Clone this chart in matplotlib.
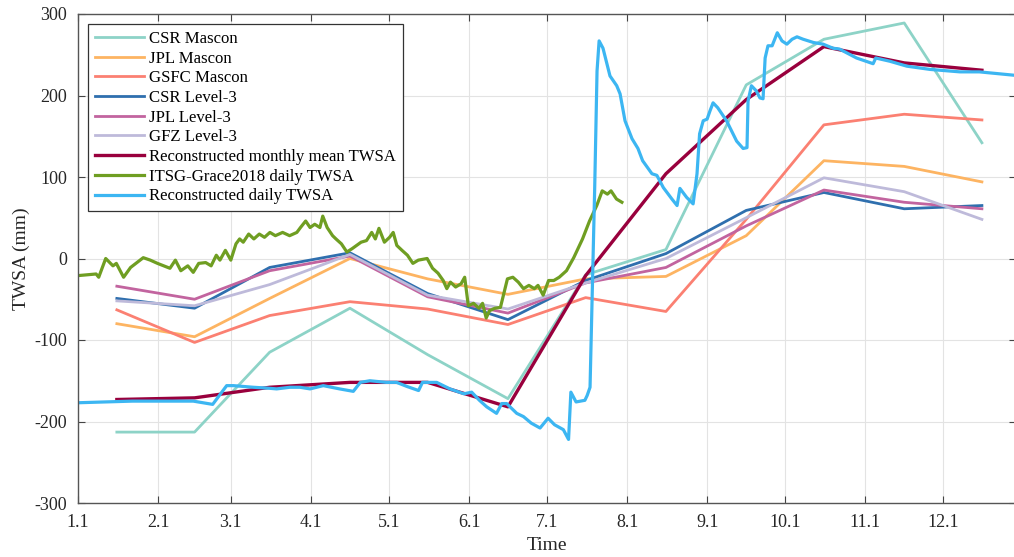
import matplotlib.pyplot as plt

# x axis is day of year (0 = Jan 1), labels at month starts
month_start = [0, 31, 59, 90, 120, 151, 181, 212, 243, 273, 304, 334]
month_labels = ["1.1", "2.1", "3.1", "4.1", "5.1", "6.1",
                "7.1", "8.1", "9.1", "10.1", "11.1", "12.1"]
month_mid = [15, 45, 74, 105, 135, 166, 196, 227, 258, 288, 319, 349]

# monthly solutions (mm)
csr_mascon = [-213, -213, -115, -61, -118, -172, -20, 11, 213, 269, 289, 142]
jpl_mascon = [-80, -96, -49, 0, -25, -44, -25, -22, 28, 120, 113, 94]
gsfc_mascon = [-63, -103, -70, -53, -62, -81, -48, -65, 48, 164, 177, 170]
csr_l3 = [-49, -61, -11, 7, -43, -75, -27, 6, 59, 81, 61, 65]
jpl_l3 = [-34, -50, -15, 3, -47, -67, -30, -11, 40, 84, 69, 61]
gfz_l3 = [-52, -58, -32, 5, -45, -62, -30, 0, 50, 99, 82, 48]
recon_monthly = [-173, -171, -158, -152, -152, -182, -21, 104, 195, 260, 240, 231]

# ITSG-Grace2018 daily
itsg_day = [0, 7, 8, 10.7, 13.5, 14.8, 17.6, 20.3, 25.2, 27.9, 30.7, 35.5, 37.6,
            39.7, 42.4, 44.5, 46.6, 49.3, 51.4, 53.4, 54.8, 56.9, 59, 61, 62.4,
            63.8, 65.9, 67.9, 70, 72, 74.1, 76.2, 79, 81.7, 84.5, 85.9, 87.9,
            89.6, 91.4, 93.4, 94.5, 96.2, 98.3, 99.6, 101.7, 103.8, 105.8,
            109.3, 111.4, 113.4, 114.8, 116.2, 118.3, 120.3, 121.7, 123.1,
            125.1, 127.2, 129.3, 131.4, 134.8, 136.9, 139, 141, 142.4, 143.8,
            145.8, 147.9, 149.3, 150.7, 152.7, 154.8, 156.2, 157.6, 158.9, 161,
            163.1, 165.8, 167.9, 170, 172, 174.1, 176.2, 177.6, 179.6, 181.7,
            183.7, 185.8, 188.6, 191.4, 194.8, 197.5, 200.3, 202.4, 204.4,
            205.8, 207.9, 210]
itsg_val = [-21, -19, -23, 0, -9, -6, -23, -11, 1, -2, -6, -12, -2,
            -15, -9, -17, -6, -5, -9, 4, -2, 10, -2, 18, 24,
            20, 30, 24, 30, 26, 32, 28, 32, 28, 32, 38, 46,
            38, 42, 38, 52, 38, 28, 24, 18, 8, 12,
            20, 22, 32, 24, 37, 20, 26, 32, 16,
            10, 4, -6, -2, 0, -12, -18, -27, -37, -29,
            -35, -31, -23, -58, -55, -61, -55, -73, -64, -61,
            -60, -25, -23, -29, -37, -33, -37, -33, -45, -27,
            -27, -23, -15, 1, 24, 46, 65, 83, 79,
            83, 73, 69]

# reconstructed daily
recon_day = [0, 21, 44.5, 52, 57.4, 60, 67.7, 73, 76.7, 81.8, 85.7, 89.6, 94.7,
             101, 106.3, 109, 112.7, 119, 123, 127, 131.5, 133, 138.5, 143.6,
             149, 152, 155, 157.8, 161.6, 163.6, 165.5, 169.4, 172, 175, 178.4,
             181.5, 184, 187.4, 189.4, 190.3, 192.3, 195.7, 196.6, 197.7, 199.5,
             200.4, 201.2, 202.7, 205.4, 208, 209.3, 211.2, 213.9, 216.2, 218,
             221.6, 223.5, 226, 229.3, 231.3, 232.4, 235, 237.5, 239, 240,
             241.4, 242.9, 244, 245.2, 247, 250.4, 254.3, 256.8, 258.3, 258.7,
             260, 261.8, 263.3, 264.5, 265.3, 266.4, 268, 270, 271.8, 273.7,
             275.7, 277.6, 280, 284, 287.7, 291.5, 294, 300.6, 307, 308, 313.5,
             320, 329, 340.5, 348, 361]
recon_val = [-177, -175, -175, -179, -156, -156, -158, -159, -160, -158, -158,
             -160, -156, -160, -163, -152, -150, -152, -152, -157, -162, -152,
             -152, -160, -166, -164, -174, -182, -190, -178, -178, -190, -194,
             -202, -208, -196, -204, -210, -222, -164, -176, -174, -168, -158,
             87, 230, 267, 258, 224, 212, 202, 169, 147, 135, 120,
             104, 102, 87, 73, 65, 86, 75, 67, 104, 153,
             169, 171, 181, 191, 185, 169, 144, 135, 136, 193,
             212, 206, 197, 196, 246, 261, 261, 277, 267, 263,
             269, 272, 269, 265, 263, 258, 257, 246, 239, 246, 242,
             236, 232, 229, 229, 225]

plt.rcParams["font.family"] = ["Liberation Serif", "DejaVu Serif"]
plt.rcParams["axes.unicode_minus"] = False

fig = plt.figure(figsize=(10.14, 5.57), dpi=100)
ax = fig.add_axes([78 / 1014, 54 / 557, 938 / 1014, 489 / 557])

lw = 2.0
ax.plot(month_mid, csr_mascon, color="#8dd3c7", lw=lw, label="CSR Mascon")
ax.plot(month_mid, jpl_mascon, color="#fdb462", lw=lw, label="JPL Mascon")
ax.plot(month_mid, gsfc_mascon, color="#fb8072", lw=lw, label="GSFC Mascon")
ax.plot(month_mid, csr_l3, color="#2f6fae", lw=lw, label="CSR Level-3")
ax.plot(month_mid, jpl_l3, color="#c2649f", lw=lw, label="JPL Level-3")
ax.plot(month_mid, gfz_l3, color="#bebada", lw=lw, label="GFZ Level-3")
ax.plot(month_mid, recon_monthly, color="#99003d", lw=2.4,
        label="Reconstructed monthly mean TWSA")
ax.plot(itsg_day, itsg_val, color="#6f9e22", lw=2.3,
        label="ITSG-Grace2018 daily TWSA")
ax.plot(recon_day, recon_val, color="#3cb6f2", lw=2.3,
        label="Reconstructed daily TWSA")

ax.set_xlim(0, 938 / 2.59)
ax.set_ylim(-300, 300)
ax.set_xticks(month_start)
ax.set_xticklabels(month_labels)
ax.set_yticks(range(-300, 301, 100))
ax.tick_params(direction="in", top=True, right=True, length=5, pad=8,
               labelsize=13, color="#444444", labelcolor="#262626")
for s in ax.spines.values():
    s.set_color("#555555")
    s.set_linewidth(1.0)
ax.grid(True, color="#e3e3e3", lw=0.8)
ax.set_axisbelow(True)
ax.set_xlabel("Time", fontsize=14, labelpad=4, color="#262626")
ax.set_ylabel("TWSA (mm)", fontsize=14, labelpad=3, color="#262626")

leg = ax.legend(loc="upper left", bbox_to_anchor=(0.011, 0.98), fontsize=12.1,
                frameon=True, fancybox=False, framealpha=1, edgecolor="#333333",
                handlelength=2.9, handletextpad=0.3, labelspacing=0.22,
                borderpad=0.42, borderaxespad=0)
leg.get_frame().set_linewidth(0.9)

fig.savefig("out.png", dpi=100)
